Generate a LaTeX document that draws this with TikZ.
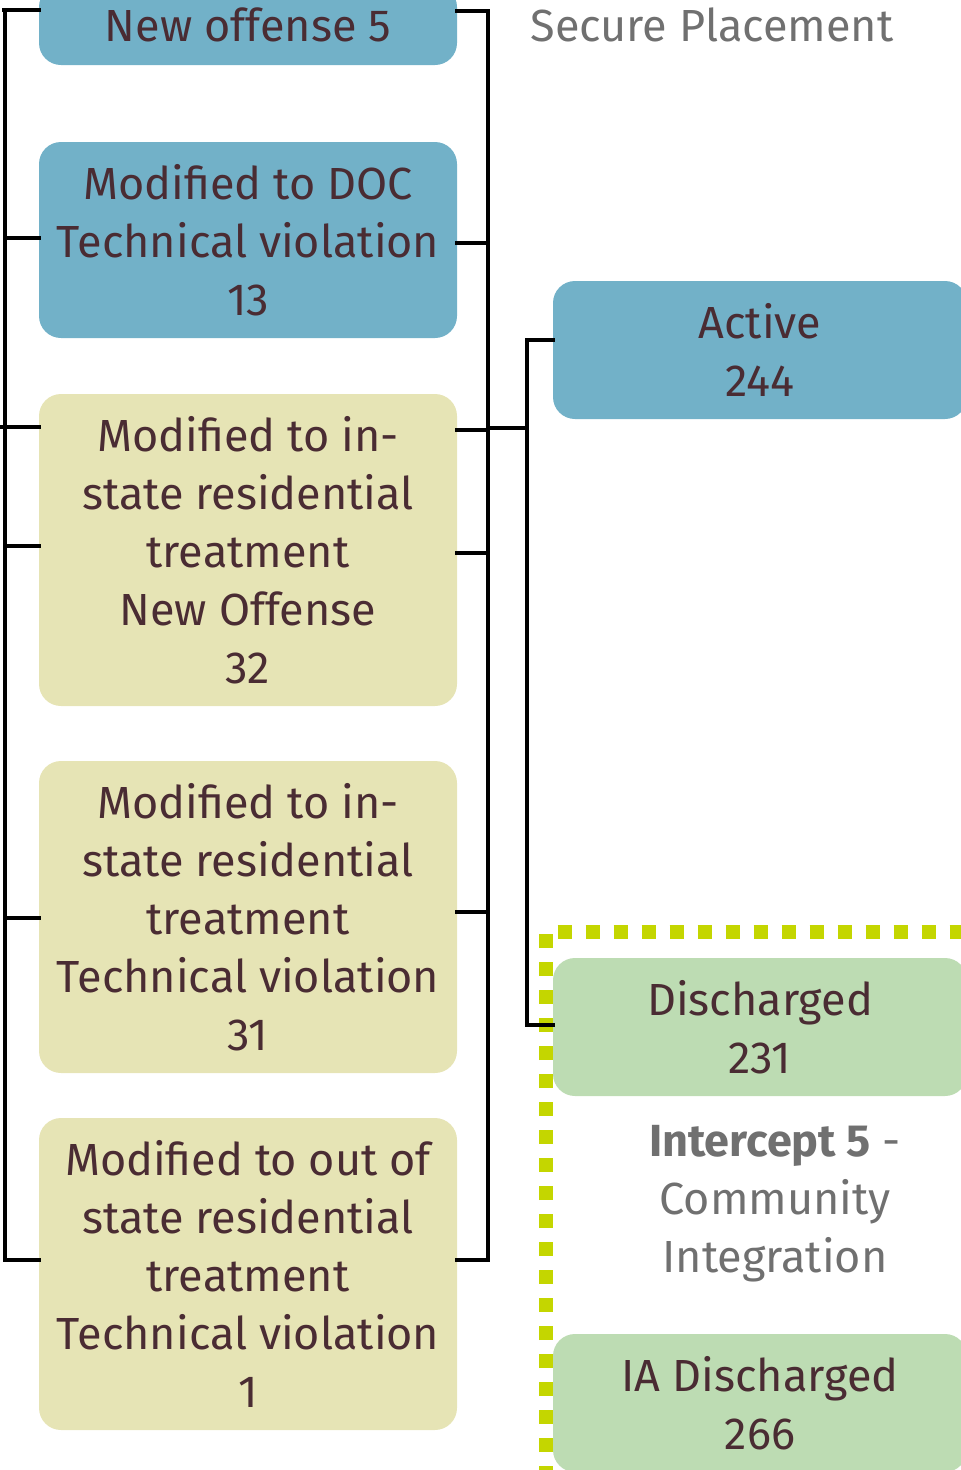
\documentclass[tikz,border=0pt]{standalone}
\usepackage{fontspec}
\setmainfont{Fira Sans}
\usetikzlibrary{calc}
\definecolor{boxblue}{HTML}{72B1C8}
\definecolor{boxyellow}{HTML}{E6E4B5}
\definecolor{boxgreen}{HTML}{BDDCB3}
\definecolor{inktext}{HTML}{4A2C33}
\definecolor{graytext}{HTML}{707070}
\definecolor{lime}{HTML}{C4D600}
\begin{document}
\begin{tikzpicture}[x=1pt,y=-1pt,
  card/.style={rounded corners=22pt, inner sep=0pt, minimum width=418pt,
    align=center, text=inktext, font=\fontsize{45}{58}\selectfont},
  bluecard/.style={card, fill=boxblue},
  yellowcard/.style={card, fill=boxyellow, minimum height=312pt},
  greencard/.style={card, fill=boxgreen, minimum width=414pt, minimum height=138pt},
  conn/.style={draw=black, line width=4.5pt, line cap=rect},
  caption/.style={text=graytext, align=center, font=\fontsize{45}{58}\selectfont},
  dotline/.style={draw=lime, line width=14pt, dash pattern=on 14pt off 14pt}]
\useasboundingbox (0,0) rectangle (961,1470);

% dotted frame of the community integration area
\coordinate (fa) at (545.5,1480);
\coordinate (fb) at (975,932);
\draw[dotline] (fa) |- (fb);

% left column
\node[bluecard, minimum height=80pt] (b1) at (248,25) {New offense 5};
\node[bluecard, minimum height=196pt] (b2) at (248,240) {Modified to DOC\\Technical violation\\13};
\node[yellowcard] (b3) at (248,550) {Modified to in-\\state residential\\treatment\\New Offense\\32};
\node[yellowcard] (b4) at (248,917) {Modified to in-\\state residential\\treatment\\Technical violation\\31};
\node[yellowcard] (b5) at (248,1274) {Modified to out of\\state residential\\treatment\\Technical violation\\1};

% right column
\node[bluecard, minimum width=414pt, minimum height=138pt] (act) at (760,350) {Active\\244};
\node[greencard] (dis) at (760,1027) {Discharged\\231};
\node[greencard] (iad) at (760,1403) {IA Discharged\\266};

% captions
\node[caption, anchor=west] (sec) at (527,25) {Secure Placement};
\node[caption] (icp) at (775,1204) {\textbf{Intercept 5} -\\Community\\Integration};

% left spine
\coordinate (lt) at (5,10);
\coordinate (lb) at (5,1260);
\draw[conn] ([yshift=15pt]b1.west) -- ([xshift=-3pt]lt) -- (lt) -- (lb) -- ([yshift=14pt]b5.west);
\draw[conn] (b2.west |- 5,238) -- (5,238);
\draw[conn] ([yshift=123pt]b3.west) -- (0,427);
\draw[conn] ([yshift=4pt]b3.west) -- (5,546);
\draw[conn] ([yshift=-1pt]b4.west) -- (5,918);

% right spine
\coordinate (rt) at (488,11);
\coordinate (rb) at (488,1260);
\draw[conn] ([yshift=14pt]b1.east) -- (rt) -- (rb) -- ([yshift=14pt]b5.east);
\draw[conn] ([yshift=-3pt]b2.east) -- (488,243);
\draw[conn] ([yshift=120pt]b3.east) -- (488,430);
\draw[conn] ([yshift=-3pt]b3.east) -- (488,553);
\draw[conn] ([yshift=5pt]b4.east) -- (488,912);

% junction to the outcomes
\coordinate (jt) at (527,340);
\coordinate (jb) at (527,1025);
\draw[conn] (488,428) -- (527,428);
\draw[conn] ([yshift=10pt]act.west) -- (jt) -- (jb) -- ([yshift=2pt]dis.west);
\end{tikzpicture}
\end{document}
